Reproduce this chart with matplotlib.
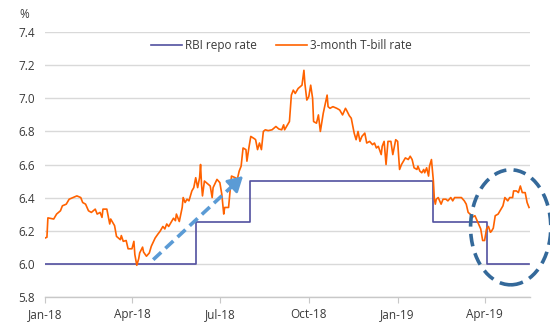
import matplotlib
matplotlib.use("Agg")
import matplotlib.pyplot as plt
import matplotlib.dates as mdates
from matplotlib.patches import Ellipse
import pandas as pd
import numpy as np

plt.rcParams['font.family'] = ['Open Sans', 'DejaVu Sans']

START = pd.Timestamp('2018-01-01')

# 3-month T-bill rate: days since 2018-01-01 and values (%)
tbill_day = [0, 2, 3, 9, 12, 16, 18, 22, 25, 29, 33, 37, 39, 42, 45, 48, 52, 54, 57, 59,
             60, 64, 67, 68, 72, 74, 78, 79, 81, 84, 86, 90, 92, 93, 95, 97, 98, 101, 102, 105,
             108, 110, 114, 117, 119, 122, 124, 126, 128, 130, 133, 135, 136, 139, 142, 143, 145, 147, 149, 152,
             154, 156, 158, 160, 161, 162, 163, 165, 167, 171, 173, 174, 178, 181, 183, 185, 186, 190, 192, 193,
             197, 199, 201, 203, 205, 208, 209, 211, 213, 217, 218, 220, 222, 224, 226, 228, 231, 235, 237, 239,
             242, 245, 247, 248, 250, 253, 255, 257, 259, 262, 266, 268, 269, 271, 273, 275, 277, 278, 281, 283,
             285, 288, 292, 293, 295, 298, 302, 305, 308, 311, 312, 315, 317, 320, 322, 324, 326, 328, 331, 333,
             336, 339, 341, 343, 345, 348, 349, 351, 353, 355, 358, 360, 363, 365, 367, 369, 371, 373, 376, 378,
             380, 382, 385, 386, 388, 390, 392, 393, 395, 397, 398, 400, 402, 403, 404, 405, 407, 410, 412, 415,
             417, 420, 422, 424, 428, 431, 434, 436, 438, 440, 442, 445, 448, 451, 453, 455, 457, 459, 461, 462,
             464, 466, 469, 472, 474, 476, 479, 481, 484, 485, 488, 490, 492, 494, 497, 499, 501]
tbill_val = [6.155, 6.16, 6.277, 6.27, 6.30, 6.32, 6.35, 6.36, 6.39, 6.40, 6.41, 6.40, 6.37, 6.36, 6.32, 6.31, 6.33, 6.30, 6.31, 6.28,
             6.33, 6.33, 6.24, 6.27, 6.23, 6.165, 6.145, 6.17, 6.135, 6.14, 6.09, 6.09, 6.135, 6.055, 5.99, 6.03, 6.065, 6.10, 6.07, 6.045,
             6.065, 6.105, 6.155, 6.18, 6.195, 6.225, 6.21, 6.24, 6.225, 6.245, 6.275, 6.26, 6.30, 6.255, 6.34, 6.40, 6.37, 6.39, 6.38, 6.44,
             6.46, 6.52, 6.46, 6.52, 6.60, 6.48, 6.41, 6.50, 6.49, 6.47, 6.40, 6.46, 6.51, 6.49, 6.42, 6.30, 6.34, 6.34, 6.47, 6.53,
             6.52, 6.51, 6.56, 6.59, 6.70, 6.69, 6.62, 6.70, 6.77, 6.755, 6.75, 6.69, 6.73, 6.69, 6.80, 6.81, 6.805, 6.81, 6.82, 6.83,
             6.815, 6.81, 6.84, 6.81, 6.83, 6.86, 7.02, 7.05, 7.03, 7.06, 7.08, 7.17, 7.09, 6.99, 7.01, 7.08, 7.00, 6.86, 6.85, 6.90,
             6.80, 6.91, 7.02, 6.95, 6.94, 6.95, 6.94, 6.93, 6.90, 6.94, 6.93, 6.895, 6.88, 6.79, 6.75, 6.80, 6.74, 6.77, 6.79, 6.73,
             6.74, 6.72, 6.73, 6.70, 6.71, 6.66, 6.71, 6.74, 6.60, 6.74, 6.74, 6.66, 6.75, 6.74, 6.57, 6.60, 6.62, 6.64, 6.63, 6.65,
             6.63, 6.58, 6.57, 6.59, 6.56, 6.55, 6.57, 6.55, 6.58, 6.53, 6.59, 6.63, 6.50, 6.39, 6.36, 6.39, 6.40, 6.36, 6.39, 6.39,
             6.38, 6.40, 6.38, 6.40, 6.40, 6.40, 6.38, 6.36, 6.31, 6.30, 6.28, 6.29, 6.25, 6.21, 6.14, 6.14, 6.21, 6.225, 6.19, 6.195,
             6.215, 6.29, 6.30, 6.33, 6.35, 6.40, 6.38, 6.40, 6.40, 6.44, 6.44, 6.43, 6.47, 6.43, 6.43, 6.37, 6.34]

# RBI repo rate (step changes)
repo_dates = ['2018-01-01', '2018-06-06', '2018-08-01', '2019-02-07', '2019-04-04', '2019-05-17']
repo_vals = [6.00, 6.25, 6.50, 6.25, 6.00, 6.00]

xtick_dates = ['2018-01-01', '2018-04-01', '2018-07-01', '2018-10-01', '2019-01-01', '2019-04-01']
xtick_labels = ['Jan-18', 'Apr-18', 'Jul-18', 'Oct-18', 'Jan-19', 'Apr-19']
yticks = [5.8, 6.0, 6.2, 6.4, 6.6, 6.8, 7.0, 7.2, 7.4]

ORANGE = '#FF6200'
INDIGO = '#5250A0'
ARROW = '#5B9BD5'
CIRCLE = '#34699A'
TXT = '#3a3a3a'
FS = 8.5

tb_dates = START + pd.to_timedelta(tbill_day, unit='D')
rp_dates = pd.to_datetime(repo_dates)

fig = plt.figure(figsize=(5.5, 3.3), dpi=100)
ax = fig.add_axes([45/550, 1-296.7/330, 485/550, 264.4/330])

ax.set_ylim(5.8, 7.4)
ax.set_xlim(START, pd.Timestamp('2019-05-18'))
ax.set_yticks(yticks)
ax.set_yticklabels([f'{v:.1f}' for v in yticks])
ax.set_xticks(pd.to_datetime(xtick_dates))
ax.set_xticklabels(xtick_labels)

ax.grid(axis='y', color='#d9d9d9', lw=1.0, zorder=0)
for s in ['left', 'top', 'right']:
    ax.spines[s].set_visible(False)
ax.spines['bottom'].set_color('#c8c8c8')
ax.spines['bottom'].set_linewidth(1.0)
ax.tick_params(axis='y', length=0, pad=7, labelsize=FS, labelcolor=TXT)
ax.tick_params(axis='x', length=4, color='#c8c8c8', pad=4, labelsize=FS, labelcolor=TXT)

ax.plot(rp_dates, repo_vals, drawstyle='steps-post', color=INDIGO, lw=1.2, label='RBI repo rate', zorder=3)
ax.plot(tb_dates, tbill_val, color=ORANGE, lw=1.2, label='3-month T-bill rate', zorder=4)

# dashed arrow
a0 = (mdates.date2num(pd.Timestamp('2018-04-23')), 6.024)
a1 = (mdates.date2num(pd.Timestamp('2018-07-25')), 6.53)
f = 0.87
mid = (a0[0] + f*(a1[0]-a0[0]), a0[1] + f*(a1[1]-a0[1]))
ax.plot([a0[0], mid[0]], [a0[1], mid[1]], color=ARROW, lw=2.6, ls=(0, (3, 1.6)), zorder=5)
ax.annotate('', xy=a1, xytext=mid,
            arrowprops=dict(arrowstyle='-|>,head_length=0.7,head_width=0.4', color=ARROW, lw=2.0,
                            shrinkA=0, shrinkB=0, mutation_scale=13), zorder=5)

# dashed ellipse
ell = Ellipse((mdates.date2num(pd.Timestamp('2019-04-28')), 6.22), width=83, height=0.696,
              fill=False, edgecolor=CIRCLE, lw=2.6, ls=(0, (3.5, 2)), clip_on=False, zorder=6)
ax.add_patch(ell)

leg = ax.legend(loc='center', bbox_to_anchor=(0.488, 0.949), ncol=2, frameon=False,
                fontsize=FS, handlelength=2.6, handletextpad=0.3, columnspacing=1.6,
                labelcolor=TXT)

fig.text(24/550, 1-15/330, '%', fontsize=FS, color=TXT, ha='center', va='center')

fig.savefig('out.png', dpi=100)
